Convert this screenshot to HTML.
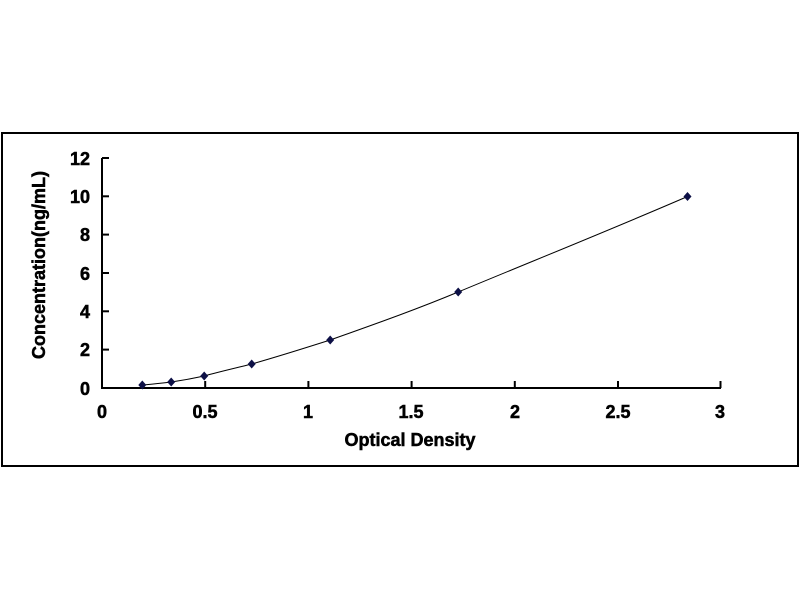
<!DOCTYPE html>
<html><head><style>
html,body{margin:0;padding:0;background:#fff;}
</style></head><body>
<svg width="800" height="600" xmlns="http://www.w3.org/2000/svg" font-family="Liberation Sans, Arial, sans-serif" font-weight="bold">
<rect x="0" y="0" width="800" height="600" fill="#fff"/>
<rect x="2" y="133" width="796" height="333" fill="none" stroke="#000" stroke-width="2"/>
<g stroke="#000" stroke-width="2">
<line x1="102" y1="158" x2="102" y2="389"/>
<line x1="101" y1="388" x2="721" y2="388"/>
<line x1="102" y1="158" x2="109" y2="158"/>
<line x1="102" y1="196.3" x2="109" y2="196.3"/>
<line x1="102" y1="234.6" x2="109" y2="234.6"/>
<line x1="102" y1="273" x2="109" y2="273"/>
<line x1="102" y1="311.3" x2="109" y2="311.3"/>
<line x1="102" y1="349.6" x2="109" y2="349.6"/>
<line x1="205.2" y1="381" x2="205.2" y2="388"/>
<line x1="308.4" y1="381" x2="308.4" y2="388"/>
<line x1="411.6" y1="381" x2="411.6" y2="388"/>
<line x1="514.8" y1="381" x2="514.8" y2="388"/>
<line x1="618" y1="381" x2="618" y2="388"/>
<line x1="720.5" y1="381" x2="720.5" y2="388"/>
</g>
<g font-size="18" text-anchor="end" fill="#000" stroke="#000" stroke-width="0.5">
<text x="90" y="165">12</text>
<text x="90" y="203">10</text>
<text x="90" y="241">8</text>
<text x="90" y="280">6</text>
<text x="90" y="318">4</text>
<text x="90" y="356">2</text>
<text x="90" y="395">0</text>
</g>
<g font-size="18" text-anchor="middle" fill="#000" stroke="#000" stroke-width="0.5">
<text x="102" y="418">0</text>
<text x="205" y="418">0.5</text>
<text x="308" y="418">1</text>
<text x="411" y="418">1.5</text>
<text x="515" y="418">2</text>
<text x="618" y="418">2.5</text>
<text x="720" y="418">3</text>
<text x="410" y="446">Optical Density</text>
<text transform="translate(45,265) rotate(-90)">Concentration(ng/mL)</text>
</g>
<path d="M142.3,385 C155,384 162,383 171.2,382 C185,380 195,378 204.2,376 C222,371 236,368 251.7,364 C280,356 305,348 330.2,340 C375,324 415,310 458.2,292 C540,258 610,230 687.5,196.5" fill="none" stroke="#000" stroke-width="1"/>
<g fill="#0d1046">
<path d="M142.3,380.5 l4,4.5 l-4,4.5 l-4,-4.5z"/>
<path d="M171.2,377.5 l4,4.5 l-4,4.5 l-4,-4.5z"/>
<path d="M204.2,371.5 l4,4.5 l-4,4.5 l-4,-4.5z"/>
<path d="M251.7,359.5 l4,4.5 l-4,4.5 l-4,-4.5z"/>
<path d="M330.2,335.5 l4,4.5 l-4,4.5 l-4,-4.5z"/>
<path d="M458.2,287.5 l4,4.5 l-4,4.5 l-4,-4.5z"/>
<path d="M687.5,192 l4,4.5 l-4,4.5 l-4,-4.5z"/>
</g>
</svg>
</body></html>
